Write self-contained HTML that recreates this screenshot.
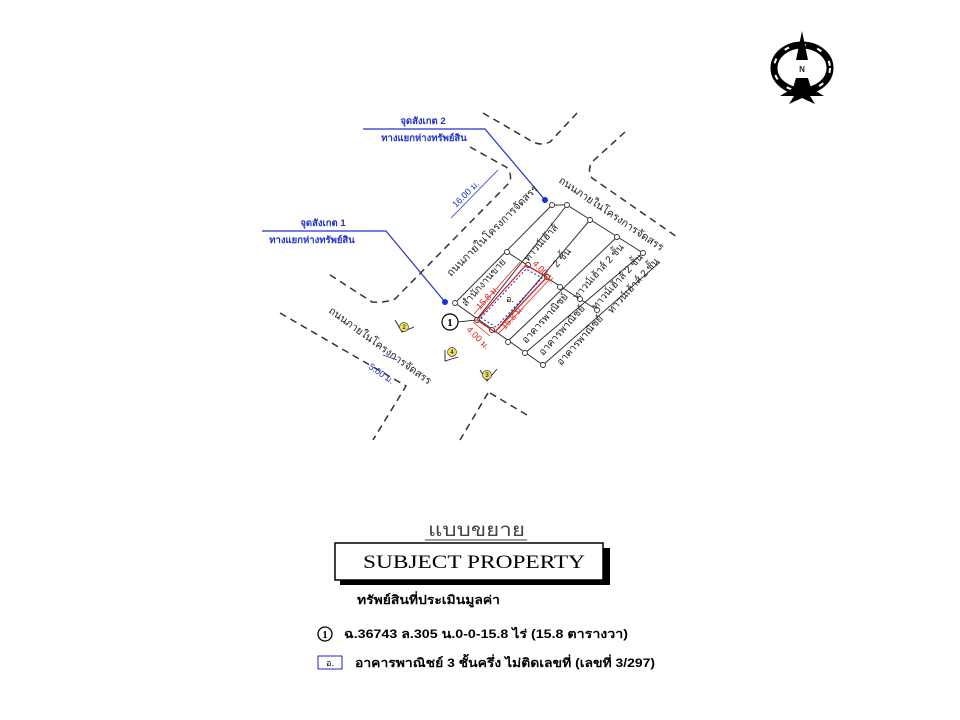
<!DOCTYPE html>
<html><head><meta charset="utf-8"><style>
html,body{margin:0;padding:0;background:#fff;}
svg{display:block}
text{font-family:"Liberation Sans","Noto Sans CJK SC",sans-serif;}
text.serif{font-family:"Liberation Serif","Noto Serif CJK SC",serif;}
</style></head><body>
<svg width="960" height="720" viewBox="0 0 960 720" xmlns="http://www.w3.org/2000/svg">
<!-- compass -->
<g>
<ellipse cx="802" cy="68" rx="28" ry="23" fill="none" stroke="#000" stroke-width="7"/>
<ellipse cx="802" cy="68" rx="28" ry="23" fill="none" stroke="#fff" stroke-width="2" stroke-dasharray="5 12"/>
<ellipse cx="802" cy="68" rx="18" ry="14" fill="#fff"/>
<polygon points="802,31 796,60 808,60" fill="#000"/>
<polygon points="796,78 808,78 811,88 824,96 810,96 815,104 802,98 789,104 794,96 780,96 793,88" fill="#000"/>
<text x="802" y="72" font-size="8" font-weight="bold" text-anchor="middle" fill="#223">N</text>
</g>
<!-- roads dashed -->
<g fill="none" stroke="#333" stroke-width="1.5" stroke-dasharray="7 5">
<path d="M483,113 L533,142 Q541,146 550,142 L578,112"/>
<path d="M470,147 L506,167 Q512,172 510,182 L395,299 Q385,303 372,302 L327,273"/>
<path d="M625,132 L592,162 Q587,170 592,178 L677,237"/>
<path d="M280,313 L406,386 L373,440"/>
<path d="M490,393 L527,415"/>
<path d="M488,393 L460,440"/>
</g>
<!-- blue callouts -->
<g stroke="#2233cc" stroke-width="1.2" fill="none">
<path d="M363,129 L485,129 L545,200"/>
<path d="M262,231 L386,231 L445,302"/>
</g>
<circle cx="545" cy="200" r="3" fill="#1a2ee0"/>
<circle cx="445" cy="302" r="3" fill="#1a2ee0"/>
<g fill="#2233cc" font-size="9.5" font-weight="bold">
<text x="423" y="124" text-anchor="middle">จุดสังเกต 2</text>
<text x="424" y="141" text-anchor="middle">ทางแยกห่างทรัพย์สิน</text>
<text x="323" y="226" text-anchor="middle">จุดสังเกต 1</text>
<text x="312" y="243" text-anchor="middle">ทางแยกห่างทรัพย์สิน</text>
</g>
<!-- dimension 16.00 and 5.00 -->
<g stroke="#2233cc" stroke-width="0.8" fill="none">
<path d="M451,218 L498,170"/>
<path d="M383,355 L397,360"/>
</g>
<text x="0" y="0" font-size="9" fill="#2233cc" transform="translate(456,208) rotate(-45)">16.00 ม.</text>
<text x="0" y="0" font-size="9" fill="#2233cc" transform="translate(368,368) rotate(35)">5.00 ม.</text>
<!-- block lines -->
<g stroke="#333" stroke-width="1" fill="none">
<path d="M455,303 L552,205 L567,205 L643,253"/>
<path d="M455,303 L543,365"/>
<path d="M477,319 L567,205"/>
<path d="M495,332 L590,220"/>
<path d="M508,341 L617,237"/>
<path d="M525,353 L643,253"/>
<path d="M543,365 L660,262"/>
<path d="M507,252 L597,310"/>
<path d="M477,320 L484,312"/>
</g>
<g fill="#fff" stroke="#333" stroke-width="0.9">
<circle cx="455" cy="303" r="2.5"/><circle cx="477" cy="320" r="2.5"/><circle cx="492" cy="330" r="2.5"/><circle cx="508" cy="342" r="2.5"/><circle cx="525" cy="353" r="2.5"/><circle cx="543" cy="365" r="2.5"/>
<circle cx="552" cy="205" r="2.5"/><circle cx="567" cy="205" r="2.5"/><circle cx="590" cy="220" r="2.5"/><circle cx="617" cy="237" r="2.5"/><circle cx="643" cy="253" r="2.5"/>
<circle cx="507" cy="252" r="2.5"/><circle cx="528" cy="265" r="2.5"/><circle cx="547" cy="277" r="2.5"/><circle cx="560" cy="287" r="2.5"/><circle cx="580" cy="299" r="2.5"/><circle cx="597" cy="310" r="2.5"/>
</g>
<!-- subject -->
<polygon points="477,320 526,265 547,277 495,332" fill="none" stroke="#d22" stroke-width="1.3"/>
<polygon points="481,318 526,269 542,278 496,327" fill="none" stroke="#22c" stroke-width="1" stroke-dasharray="2 2"/>
<text x="510" y="302" font-size="9" text-anchor="middle">อ.</text>
<g fill="#d22" font-size="9">
<text transform="translate(480,310) rotate(-48)">15.8 ม.</text>
<text transform="translate(505,330) rotate(-48)">15.8 ม.</text>
<text transform="translate(532,264) rotate(45)">4.00 ม.</text>
<text transform="translate(466,330) rotate(45)">4.00 ม.</text>
</g>
<g stroke="#d22" stroke-width="0.8" fill="none">
<path d="M474,314 L520,262"/><path d="M498,334 L550,279"/>
<path d="M473,322 L490,336"/>
</g>
<!-- building labels -->
<g font-size="10" fill="#222">
<text transform="translate(466,307) rotate(-48)">สำนักงานขาย</text>
<text transform="translate(528,262) rotate(-48)">ทาวน์เฮ้าส์</text>
<text transform="translate(557,268) rotate(-48)">2 ชั้น</text>
<text transform="translate(526,344) rotate(-48)">อาคารพาณิชย์</text>
<text transform="translate(543,356) rotate(-48)">อาคารพาณิชย์</text>
<text transform="translate(561,366) rotate(-48)">อาคารพาณิชย์</text>
<text transform="translate(577,300) rotate(-48)">ทาวน์เฮ้าส์ 2 ชั้น</text>
<text transform="translate(596,310) rotate(-48)">ทาวน์เฮ้าส์ 2 ชั้น</text>
<text transform="translate(612,314) rotate(-48)">ทาวน์เฮ้าส์ 2 ชั้น</text>
</g>
<!-- road labels -->
<g font-size="10.5" fill="#222">
<text transform="translate(451,277) rotate(-45)">ถนนภายในโครงการจัดสรร</text>
<text transform="translate(558,182) rotate(34)">ถนนภายในโครงการจัดสรร</text>
<text transform="translate(328,312) rotate(36)">ถนนภายในโครงการจัดสรร</text>
</g>
<!-- circle 1 and view markers -->
<circle cx="450" cy="322" r="8" fill="#fff" stroke="#000" stroke-width="1.2"/>
<text class="serif" x="450" y="326" font-size="11" font-weight="bold" text-anchor="middle">1</text>
<path d="M458,322 L476,320" stroke="#000" stroke-width="0.8"/>
<g stroke="#222" stroke-width="0.9" fill="none">
<path d="M395,320 L402,332 L414,327"/>
<path d="M445,350 L445,361 L458,357"/>
<path d="M480,370 L487,381 L497,369"/>
</g>
<g fill="#e8e060" stroke="#444" stroke-width="0.7">
<circle cx="404" cy="327" r="4.5"/><circle cx="452" cy="352" r="4.5"/><circle cx="487" cy="375" r="4.5"/>
</g>
<g font-size="6" text-anchor="middle"><text x="404" y="329">2</text><text x="452" y="354">4</text><text x="487" y="377">3</text></g>
<!-- legend -->
<text class="serif" x="428" y="536" font-size="19" fill="#444" textLength="97" lengthAdjust="spacingAndGlyphs">แบบขยาย</text>
<line x1="425" y1="540" x2="527" y2="540" stroke="#444" stroke-width="1"/>
<rect x="340" y="548" width="270" height="37" fill="#000"/>
<rect x="335" y="543" width="268" height="37" fill="#fff" stroke="#000" stroke-width="1.5"/>
<text class="serif" x="363" y="568" font-size="19" textLength="222" lengthAdjust="spacingAndGlyphs">SUBJECT  PROPERTY</text>
<text x="357" y="604" font-size="12" font-weight="bold" textLength="143" lengthAdjust="spacingAndGlyphs">ทรัพย์สินที่ประเมินมูลค่า</text>
<circle cx="325" cy="634" r="7" fill="#fff" stroke="#000" stroke-width="1.3"/>
<text class="serif" x="325" y="638" font-size="11" font-weight="bold" text-anchor="middle">1</text>
<text x="344" y="638" font-size="12" font-weight="bold" textLength="284" lengthAdjust="spacingAndGlyphs">ฉ.36743 ล.305 น.0-0-15.8 ไร่  (15.8 ตารางวา)</text>
<rect x="318" y="656" width="24" height="13" fill="#fff" stroke="#22c" stroke-width="1"/>
<text x="330" y="666" font-size="9" text-anchor="middle">อ.</text>
<text x="355" y="667" font-size="12" font-weight="bold" textLength="300" lengthAdjust="spacingAndGlyphs">อาคารพาณิชย์ 3 ชั้นครึ่ง ไม่ติดเลขที่ (เลขที่ 3/297)</text>
</svg>
</body></html>
